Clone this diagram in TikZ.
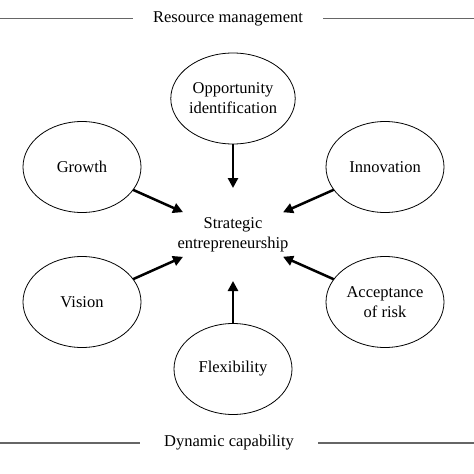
\documentclass[tikz,border=0pt]{standalone}
\usepackage{fontspec}
\setmainfont{Liberation Serif}
\usepackage{tikz}
\usetikzlibrary{arrows.meta, positioning, shapes.geometric}

\begin{document}
\begin{tikzpicture}[x=1pt, y=-1pt, font=\fontsize{16.5}{20}\selectfont,
            factor/.style={draw, ellipse, line width=0.8pt, minimum width=118pt, minimum height=91pt, inner sep=0pt, outer sep=0pt, align=center},
            hub/.style={ellipse, minimum width=114pt, minimum height=93pt, inner sep=0pt, outer sep=0pt},
            band/.style={inner xsep=20pt},
            rule/.style={draw=black!60, line width=1.2pt},
            flow/.style={-{Triangle[length=10pt, width=10pt]}, line width=2.5pt}]

            \useasboundingbox (0,0) rectangle (474,474);

            % Top and bottom bands
            \node[band] (topband) at (228,18.5) {Resource management};
            \coordinate (tl) at (0,18.5);
            \coordinate (tr) at (474,18.5);
            \draw[rule] (tl) -- (topband.west);
            \draw[rule] (topband.east) -- (tr);

            \node[band, inner xsep=24pt] (botband) at (229,443) {Dynamic capability};
            \coordinate (bl) at (0,443);
            \coordinate (br) at (474,443);
            \draw[rule] (bl) -- (botband.west);
            \draw[rule] (botband.east) -- (br);

            % Centre
            \node[hub] (core) at (233,234.5) {};
            \node[align=center] (corelabel) at (core) {Strategic\\entrepreneurship};

            % Factors
            \node[factor] (opp) at (233,98.5) {Opportunity\\identification};
            \node[factor] (growth) at (82,167) {Growth};
            \node[factor] (innov) at (385,167) {Innovation};
            \node[factor] (vision) at (82,302) {Vision};
            \node[factor] (accept) at (385,302) {Acceptance\\of risk};
            \node[factor] (flex) at (233,369) {Flexibility};

            % Arrows into the centre
            \foreach \f in {opp, growth, innov, vision, accept, flex}
                \draw[flow] (\f) -- (core);
        \end{tikzpicture}
\end{document}
